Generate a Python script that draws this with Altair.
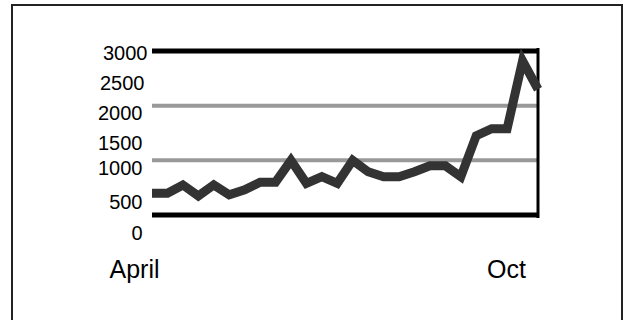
import altair as alt
import pandas as pd

# data (weekly index April..Oct)
values = [400, 400, 550, 350, 550, 370, 460, 600, 600, 1000, 580, 700, 580, 1000,
          790, 700, 700, 790, 900, 900, 700, 1450, 1580, 1580, 2820, 2300]
idx = list(range(len(values)))
y_ticks = [0, 500, 1000, 1500, 2000, 2500, 3000]
grid_vals = [1000, 2000]
frame_vals = [0, 3000]
x_labels = ["April", "Oct"]

df = pd.DataFrame({"i": idx, "v": values})
last = idx[-1]

FONT = "Liberation Sans"

xs = alt.Scale(domain=[0, last], nice=False, zero=False)
ys = alt.Scale(domain=[0, 3000], nice=False)

y_off = {"condition": [
    {"test": "datum.value == 3000", "value": 2},
    {"test": "datum.value == 2500", "value": 5},
    {"test": "datum.value == 2000", "value": 8},
    {"test": "datum.value == 1500", "value": 10},
    {"test": "datum.value == 1000", "value": 8},
    {"test": "datum.value == 500", "value": 15},
], "value": 18}
y_pad = {"condition": [
    {"test": "datum.value == 3000", "value": 5},
    {"test": "datum.value == 2500", "value": 8},
], "value": 10}
x_off = {"condition": {"test": "datum.value == 0", "value": -18}, "value": -32}

x_axis = alt.Axis(values=[0, last], labelExpr=f"datum.value == 0 ? '{x_labels[0]}' : '{x_labels[1]}'",
                  grid=False, ticks=False, domain=False, labelFont=FONT, labelFontSize=25,
                  labelColor="#000", labelPadding=42, labelOffset=x_off, labelFlush=False,
                  labelOverlap=False, title=None)
y_axis = alt.Axis(values=y_ticks, format="d", grid=False, ticks=False, domain=False,
                  labelFont=FONT, labelFontSize=20, labelColor="#000",
                  labelOffset=y_off, labelPadding=y_pad, labelOverlap=False, title=None)

line = alt.Chart(df).mark_line(color="#333333", strokeWidth=9, strokeJoin="miter").encode(
    x=alt.X("i:Q", scale=xs, axis=x_axis),
    y=alt.Y("v:Q", scale=ys, axis=y_axis),
)

grid = alt.Chart(pd.DataFrame({"g": grid_vals})).mark_rule(color="#999999", strokeWidth=4).encode(
    y=alt.Y("g:Q", scale=ys, axis=y_axis))
frame_h = alt.Chart(pd.DataFrame({"f": frame_vals})).mark_rule(color="#000000", strokeWidth=5).encode(
    y=alt.Y("f:Q", scale=ys, axis=y_axis))
frame_r = alt.Chart(pd.DataFrame({"x": [last]})).mark_rule(color="#000000", strokeWidth=3).encode(
    x=alt.X("x:Q", scale=xs, axis=x_axis), y=alt.value(-3), y2=alt.value(167))
border = alt.Chart(pd.DataFrame({"a": [0]})).mark_rect(
    fill="transparent", stroke="#222222", strokeWidth=2).encode(
    x=alt.value(-140), x2=alt.value(470), y=alt.value(-46), y2=alt.value(330))

chart = alt.layer(border, grid, frame_h, frame_r, line).properties(
    width=386, height=164,
    autosize=alt.AutoSizeParams(type="none"),
    padding={"left": 152, "top": 51, "right": 87, "bottom": 105},
    background="white",
).configure_view(stroke=None)

chart.save("out.html", embed_options={"renderer": "svg", "actions": False})
